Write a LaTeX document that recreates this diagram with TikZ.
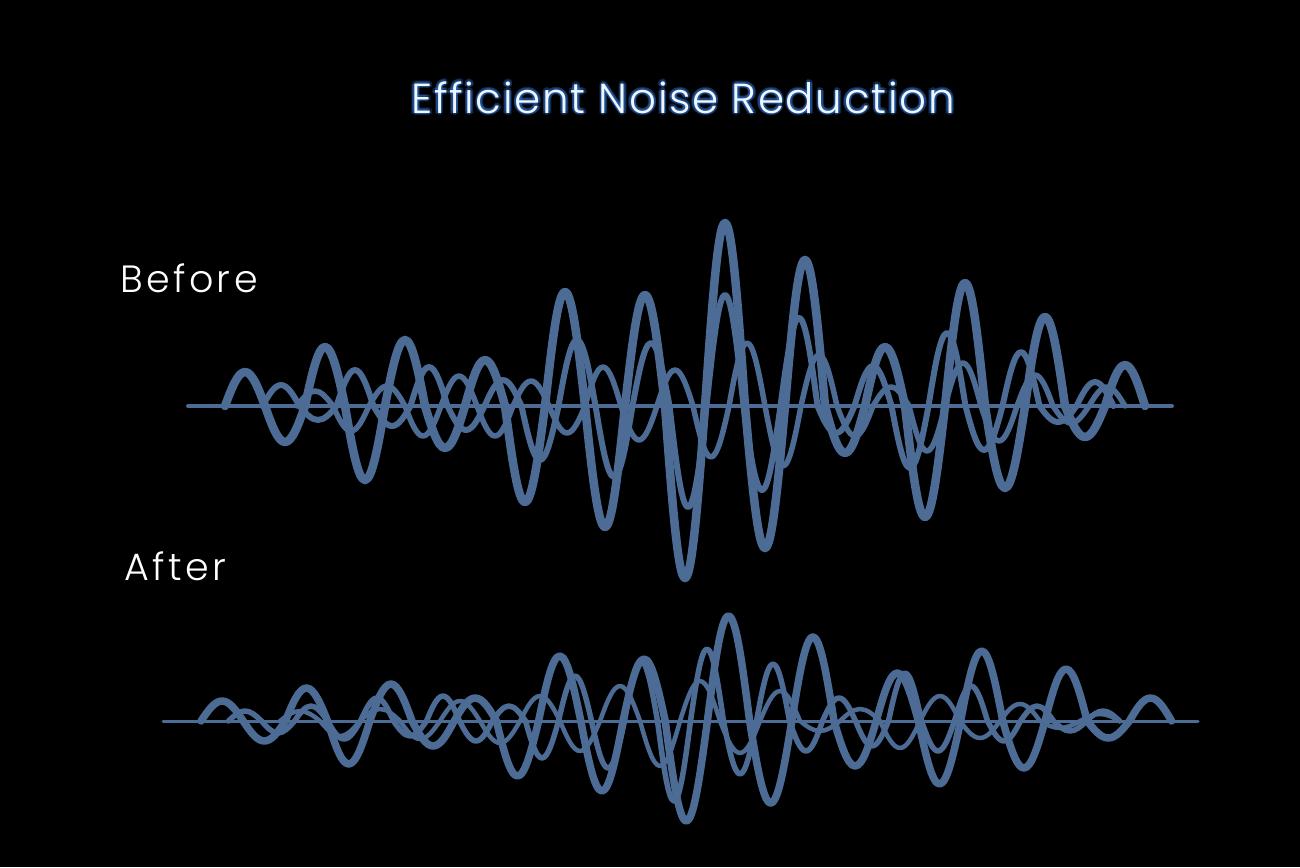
\documentclass[tikz,border=0pt]{standalone}
\usepackage{fontspec}
\newfontfamily\pop{Poppins}[UprightFont={* Light}]
\newfontfamily\poptitle{Poppins}[UprightFont={* Light},LetterSpace=4]
\newfontfamily\poplbl{Poppins}[UprightFont={* Light},LetterSpace=9]
\definecolor{wave}{RGB}{76,108,150}
\definecolor{titletext}{RGB}{238,246,255}
\definecolor{glowc}{RGB}{50,120,220}
\begin{document}
\begin{tikzpicture}[x=1pt,y=-1pt,line cap=round,line join=round,
  thickw/.style={draw=wave,line width=8.5pt},
  midw/.style={draw=wave,line width=6pt},
  thinw/.style={draw=wave,line width=5.5pt},
  athickw/.style={draw=wave,line width=7.5pt},
  amidw/.style={draw=wave,line width=5.5pt},
  athinw/.style={draw=wave,line width=4.5pt},
  axisline/.style={draw=wave,line width=4pt},
  lbl/.style={text=white,font=\poplbl\fontsize{38}{40}\selectfont,inner sep=0pt,anchor=base west},
  ttl/.style={font=\poptitle\fontsize{42}{44}\selectfont,inner sep=0pt,anchor=base}]
\fill[black] (0,0) rectangle (1300,867);
\useasboundingbox (0,0) rectangle (1300,867);

% title with glow
\foreach \dx/\dy [count=\i] in {2.5/0,-2.5/0,0/2.5,0/-2.5,1.8/1.8,-1.8/1.8,1.8/-1.8,-1.8/-1.8}
  \node[ttl,text=glowc,opacity=0.28] (glow\i) at (683+\dx,113+\dy) {Efficient Noise Reduction};
\node[ttl,text=titletext] (title) at (683,113) {Efficient Noise Reduction};

\node[lbl] (before) at (120,292) {Before};
\node[lbl] (after) at (124,580) {After};

% ---------- Before ----------
\draw[axisline] (188,406) -- (1172,406);
\draw[thinw] (297,406) \foreach \a in {-15,25,-20,30,-30,30,-25,27,-39,34,-36,51,-63,60,-51,30,-19,45,-43,35,-31,17,-19}
  { sin ++(18,\a) cos ++(18,{-(\a)}) };
\draw[midw] (262.5,406) \foreach \a in {-21,14,-36,20,-39,24,-26,54,-66,71,-63,101,-111,84,-88,27,-40,62,-73,44,-54,16,-24}
  { sin ++(18.5,\a) cos ++(18.5,{-(\a)}) };
\draw[thickw] (225,406) \foreach \a in {-34,36,-59,74,-66,42,-46,96,-114,121,-111,172,-183,142,-146,47,-59,111,-123,82,-89,31,-41}
  { sin ++(20,\a) cos ++(20,{-(\a)}) };

% ---------- After ----------
\draw[axisline,line width=3pt] (163,721) -- (1198,721);
\draw[athinw] (280,721) \foreach \a in {-10,15,-12,18,-20,22,-25,30,-35,45,-40,32,-30,10,-12,27,-25,17,-17,7,-7}
  { sin ++(20,\a) cos ++(20,{-(\a)}) };
\draw[amidw] (228.5,721) \foreach \a in {-10,12,-15,18,-23,15,-25,20,-15,37,-45,47,-60,80,-72,53,-57,30,-23,25,-48,30,-35,20,-15,10,-10}
  { sin ++(16.5,\a) cos ++(16.5,{-(\a)}) };
\draw[athickw] (201,721) \foreach \a in {-20,20,-33,43,-37,25,-23,55,-65,70,-62,100,-105,82,-84,45,-48,63,-70,47,-52,17,-23}
  { sin ++(21.1,\a) cos ++(21.1,{-(\a)}) };
\end{tikzpicture}
\end{document}
